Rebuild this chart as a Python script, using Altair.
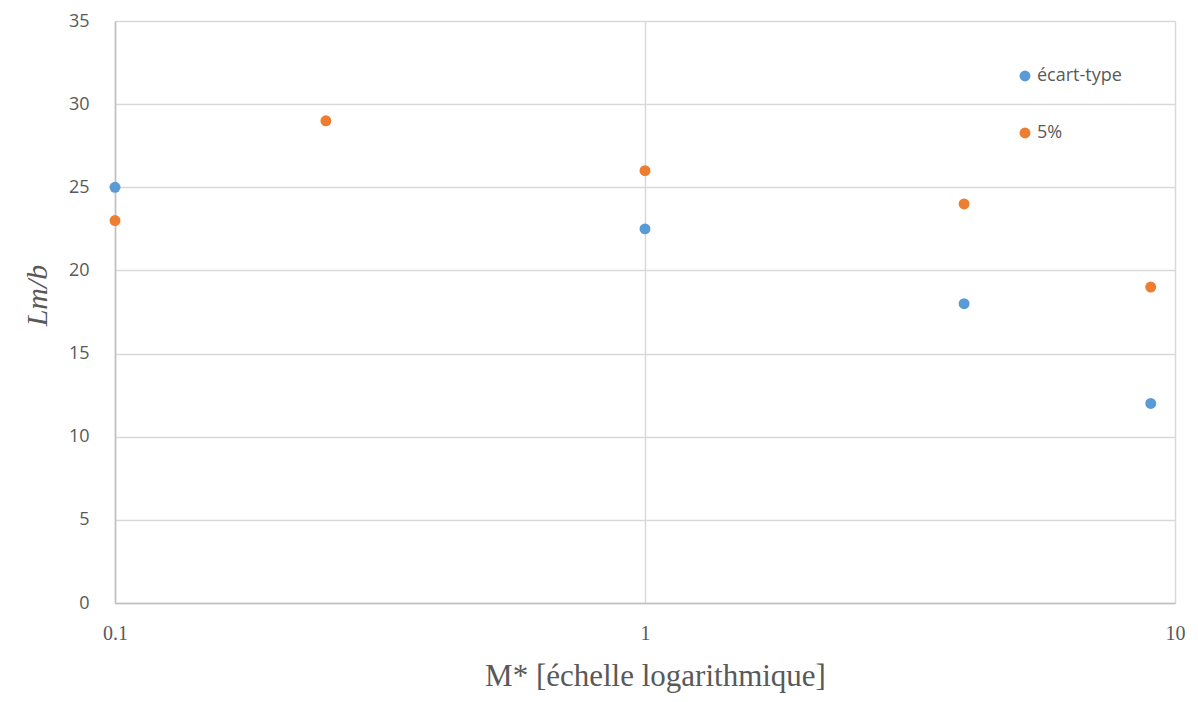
import altair as alt
import pandas as pd

series_std = "écart-type"
series_5 = "5%"
x_std = [0.1, 1, 4, 9]
y_std = [25, 22.5, 18, 12]
x_5 = [0.1, 0.25, 1, 4, 9]
y_5 = [23, 29, 26, 24, 19]
x_ticks = [0.1, 1, 10]
y_ticks = [0, 5, 10, 15, 20, 25, 30, 35]

pad = {"left": 107, "top": 13, "right": 15, "bottom": 96}

df = pd.DataFrame({
    "M": x_std + x_5,
    "L": y_std + y_5,
    "serie": [series_std] * len(x_std) + [series_5] * len(x_5),
})

chart = alt.Chart(df).mark_circle(size=120, opacity=1).encode(
    x=alt.X("M:Q",
            scale=alt.Scale(type="log", domain=[0.1, 10], nice=False),
            axis=alt.Axis(values=x_ticks, labelExpr="format(datum.value, '~g')",
                          title="M* [échelle logarithmique]",
                          titleFont="Liberation Serif", titleFontSize=31,
                          titleColor="#595959", titleFontWeight="normal",
                          titlePadding=18, labelFlush=False,
                          titleX=540, titleAlign="center",
                          labelFont="Liberation Serif", labelFontSize=20,
                          labelColor="#595959", labelPadding=20,
                          ticks=False, domainColor="#bfbfbf", domainWidth=1.5,
                          gridColor="#d9d9d9", gridWidth=1.5)),
    y=alt.Y("L:Q",
            scale=alt.Scale(domain=[0, 35], nice=False),
            axis=alt.Axis(values=y_ticks, title="Lm/b",
                          titleFont="Liberation Serif", titleFontSize=30,
                          titleFontStyle="italic", titleFontWeight="normal",
                          titleColor="#595959", titlePadding=16,
                          titleY=274, titleAlign="center",
                          labelFont="Open Sans", labelFontSize=18,
                          labelColor="#595959", labelPadding=26,
                          ticks=False, domainColor="#bfbfbf", domainWidth=1.5,
                          gridColor="#d9d9d9", gridWidth=1.5)),
    color=alt.Color("serie:N",
                    scale=alt.Scale(domain=[series_std, series_5],
                                    range=["#5B9BD5", "#ED7D31"]),
                    legend=alt.Legend(title=None, orient="none",
                                      legendX=901, legendY=46,
                                      symbolType="circle", symbolSize=120,
                                      labelFont="Open Sans", labelFontSize=18,
                                      labelColor="#595959", rowPadding=39,
                                      labelOffset=3)),
).properties(
    width=1060, height=582,
    autosize=alt.AutoSizeParams(type="none"),
    padding=pad,
).configure_view(stroke=None).configure(background="white", padding=pad)

chart.save("out.html", embed_options={"renderer": "svg", "actions": False})
